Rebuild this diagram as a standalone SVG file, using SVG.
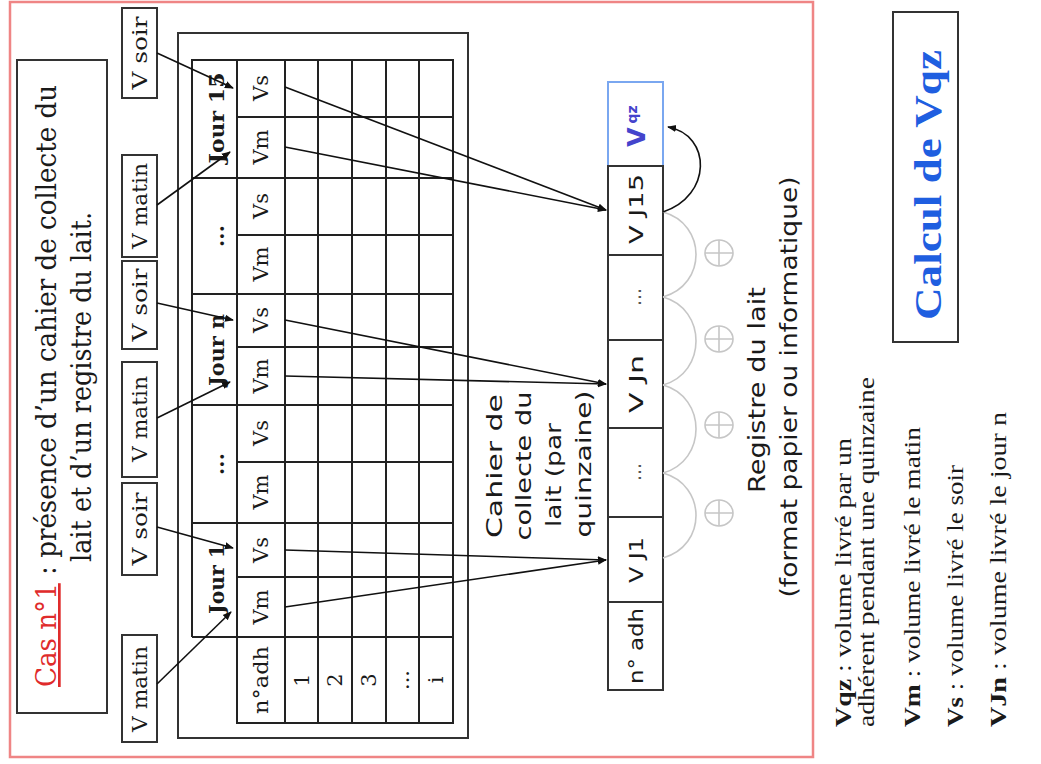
<svg xmlns="http://www.w3.org/2000/svg" width="1041" height="764" viewBox="0 0 1041 764">
<style>
.box{fill:#fff;stroke:#333;stroke-width:2}
.ln{stroke:#222;stroke-width:2;fill:none}
.sf{font-family:"DejaVu Serif","Liberation Serif",serif;fill:#1a1a1a}
.sfb{font-family:"DejaVu Serif","Liberation Serif",serif;fill:#1a1a1a;font-weight:bold}
.ss{font-family:"DejaVu Sans","Liberation Sans",sans-serif;fill:#1a1a1a}
.tr{font-family:"Liberation Serif","Times New Roman",serif;fill:#1a1a1a}
.conn{stroke:#111;stroke-width:1.6;fill:none;marker-end:url(#ah)}
.gray{stroke:#c6c6c6;stroke-width:1.6;fill:none}
</style>
<defs>
<marker id="ah" viewBox="0 0 10 10" refX="9" refY="5" markerWidth="9" markerHeight="9" markerUnits="userSpaceOnUse" orient="auto"><path d="M0,1 L10,5 L0,9 z" fill="#111"/></marker>
</defs>
<rect x="0" y="0" width="1041" height="764" fill="#fff"/>

<g id="frame"><rect x="10" y="2" width="803" height="755" fill="none" stroke="#ef8585" stroke-width="2.5"/></g>

<g id="title">
<rect class="box" x="17" y="60" width="90" height="653"/>
<text class="sf" font-size="27" text-anchor="middle" transform="translate(56,386) rotate(-90)" textLength="602" lengthAdjust="spacingAndGlyphs"><tspan fill="#e02b2b" text-decoration="underline">Cas n°1</tspan> : présence d’un cahier de collecte du</text>
<text class="sf" font-size="27" text-anchor="middle" transform="translate(91,387) rotate(-90)" textLength="350" lengthAdjust="spacingAndGlyphs">lait et d’un registre du lait.</text>
</g>

<g id="vsoir15"><rect class="box" x="122" y="8" width="35" height="90"/><text class="sf" font-size="21" text-anchor="middle" transform="translate(147,53) rotate(-90)" textLength="73" lengthAdjust="spacingAndGlyphs">V soir</text></g>
<g id="vmatin15"><rect class="box" x="122" y="155" width="35" height="102"/><text class="sf" font-size="21" text-anchor="middle" transform="translate(147,206) rotate(-90)" textLength="86" lengthAdjust="spacingAndGlyphs">V matin</text></g>
<g id="vsoirn"><rect class="box" x="122" y="261" width="35" height="88"/><text class="sf" font-size="21" text-anchor="middle" transform="translate(147,305) rotate(-90)" textLength="73" lengthAdjust="spacingAndGlyphs">V soir</text></g>
<g id="vmatinn"><rect class="box" x="122" y="362" width="35" height="115"/><text class="sf" font-size="21" text-anchor="middle" transform="translate(147,419) rotate(-90)" textLength="86" lengthAdjust="spacingAndGlyphs">V matin</text></g>
<g id="vsoir1"><rect class="box" x="122" y="483" width="35" height="92"/><text class="sf" font-size="21" text-anchor="middle" transform="translate(147,529) rotate(-90)" textLength="73" lengthAdjust="spacingAndGlyphs">V soir</text></g>
<g id="vmatin1"><rect class="box" x="122" y="635" width="35" height="107"/><text class="sf" font-size="21" text-anchor="middle" transform="translate(147,689) rotate(-90)" textLength="86" lengthAdjust="spacingAndGlyphs">V matin</text></g>

<g id="cahier">
<rect class="box" x="178" y="33" width="290" height="705"/>
<rect x="237" y="60" width="216" height="663" fill="#fff" stroke="none"/>
<g class="ln">
<path d="M192,637 V60 H453 V723 H237 V60"/>
<path d="M192,637 H453 M192,523 H453 M192,405 H453 M192,294 H453 M192,178 H453"/>
<path d="M237,117 H453 M237,235 H453 M237,347 H453 M237,462 H453 M237,577 H453"/>
<path d="M285,60 V723 M318,60 V723 M352,60 V723 M386,60 V723 M419,60 V723"/>
</g>
<text class="sfb" font-size="21" text-anchor="middle" transform="translate(224,118) rotate(-90)" textLength="91" lengthAdjust="spacingAndGlyphs">Jour 15</text>
<text class="sfb" font-size="21" text-anchor="middle" transform="translate(224,236) rotate(-90)">...</text>
<text class="sfb" font-size="21" text-anchor="middle" transform="translate(224,350) rotate(-90)" textLength="72" lengthAdjust="spacingAndGlyphs">Jour n</text>
<text class="sfb" font-size="21" text-anchor="middle" transform="translate(224,464) rotate(-90)">...</text>
<text class="sfb" font-size="21" text-anchor="middle" transform="translate(224,579) rotate(-90)" textLength="70" lengthAdjust="spacingAndGlyphs">Jour 1</text>
<g class="sf" font-size="21" text-anchor="middle">
<text transform="translate(268,88) rotate(-90)">Vs</text>
<text transform="translate(268,147) rotate(-90)">Vm</text>
<text transform="translate(268,206) rotate(-90)">Vs</text>
<text transform="translate(268,264) rotate(-90)">Vm</text>
<text transform="translate(268,320) rotate(-90)">Vs</text>
<text transform="translate(268,376) rotate(-90)">Vm</text>
<text transform="translate(268,433) rotate(-90)">Vs</text>
<text transform="translate(268,492) rotate(-90)">Vm</text>
<text transform="translate(268,550) rotate(-90)">Vs</text>
<text transform="translate(268,607) rotate(-90)">Vm</text>
<text transform="translate(268,680) rotate(-90)" textLength="68" lengthAdjust="spacingAndGlyphs">n°adh</text>
<text transform="translate(309,680) rotate(-90)">1</text>
<text transform="translate(342,680) rotate(-90)">2</text>
<text transform="translate(376,680) rotate(-90)">3</text>
<text transform="translate(409,680) rotate(-90)">...</text>
<text transform="translate(443,680) rotate(-90)">i</text>
</g>
<g class="ss" font-size="22" text-anchor="middle">
<text transform="translate(502,466) rotate(-90)" textLength="144" lengthAdjust="spacingAndGlyphs">Cahier de</text>
<text transform="translate(531,466) rotate(-90)" textLength="149" lengthAdjust="spacingAndGlyphs">collecte du</text>
<text transform="translate(561,475) rotate(-90)" textLength="104" lengthAdjust="spacingAndGlyphs">lait (par</text>
<text transform="translate(591,464) rotate(-90)" textLength="147" lengthAdjust="spacingAndGlyphs">quinzaine)</text>
</g>
</g>

<g id="registre">
<rect x="608" y="82" width="55" height="84" fill="#fff" stroke="#7aa7f0" stroke-width="2"/>
<rect class="box" x="608" y="166" width="55" height="89"/>
<rect class="box" x="608" y="255" width="55" height="85"/>
<rect class="box" x="608" y="340" width="55" height="88"/>
<rect class="box" x="608" y="428" width="55" height="89"/>
<rect class="box" x="608" y="517" width="55" height="85"/>
<rect class="box" x="608" y="602" width="55" height="88"/>
<text font-family="DejaVu Sans, Liberation Sans, sans-serif" font-weight="bold" fill="#4444cc" text-anchor="middle" transform="translate(645,126) rotate(-90)"><tspan font-size="25">V</tspan><tspan font-size="14" dx="4" dy="-8">qz</tspan></text>
<g class="ss" font-size="19" text-anchor="middle">
<text transform="translate(643,209) rotate(-90)" textLength="70" lengthAdjust="spacingAndGlyphs">V J15</text>
<text transform="translate(641,297) rotate(-90)" fill="#555">...</text>
<text transform="translate(643,384) rotate(-90)" textLength="58" lengthAdjust="spacingAndGlyphs">V Jn</text>
<text transform="translate(641,472) rotate(-90)" fill="#555">...</text>
<text transform="translate(643,560) rotate(-90)" textLength="46" lengthAdjust="spacingAndGlyphs">V J1</text>
<text transform="translate(643,646) rotate(-90)" textLength="76" lengthAdjust="spacingAndGlyphs">n° adh</text>
</g>
<g class="ss" font-size="23" text-anchor="middle">
<text transform="translate(765,390) rotate(-90)" textLength="206" lengthAdjust="spacingAndGlyphs">Registre du lait</text>
<text transform="translate(797,387) rotate(-90)" textLength="421" lengthAdjust="spacingAndGlyphs">(format papier ou informatique)</text>
</g>
<g class="gray">
<path d="M663,558 C707,546 707,485 663,473"/>
<path d="M663,473 C707,461 707,397 663,385"/>
<path d="M663,385 C707,373 707,309 663,297"/>
<path d="M663,297 C707,285 707,224 663,212"/>
<ellipse cx="719" cy="253" rx="14" ry="13"/><path d="M705,253 H733 M719,240 V266"/>
<ellipse cx="719" cy="339" rx="14" ry="13"/><path d="M705,339 H733 M719,326 V352"/>
<ellipse cx="719" cy="425" rx="14" ry="13"/><path d="M705,425 H733 M719,412 V438"/>
<ellipse cx="719" cy="513" rx="14" ry="13"/><path d="M705,513 H733 M719,500 V526"/>
</g>
</g>

<g id="connectors">
<line class="conn" x1="157" y1="53" x2="233" y2="88"/>
<line class="conn" x1="157" y1="205" x2="230" y2="152"/>
<line class="conn" x1="157" y1="303" x2="233" y2="320"/>
<line class="conn" x1="157" y1="418" x2="230" y2="382"/>
<line class="conn" x1="157" y1="527" x2="233" y2="548"/>
<line class="conn" x1="157" y1="684" x2="231" y2="612"/>
<line class="conn" x1="285" y1="87" x2="606" y2="210"/>
<line class="conn" x1="285" y1="147" x2="606" y2="210"/>
<line class="conn" x1="285" y1="320" x2="606" y2="384"/>
<line class="conn" x1="285" y1="376" x2="606" y2="384"/>
<line class="conn" x1="285" y1="550" x2="606" y2="560"/>
<line class="conn" x1="285" y1="607" x2="606" y2="560"/>
<path class="conn" d="M663,212 C712,196 712,135 668,127"/>
</g>

<g id="calcul">
<rect class="box" x="893" y="12" width="65" height="330"/>
<text font-family="Liberation Serif, Times New Roman, serif" font-weight="bold" font-size="38" fill="#1f5ee0" text-anchor="middle" transform="translate(941,185) rotate(-90)" textLength="270" lengthAdjust="spacingAndGlyphs">Calcul de Vqz</text>
</g>

<g id="legend" class="tr" font-size="24">
<text transform="translate(851,727) rotate(-90)" textLength="289" lengthAdjust="spacingAndGlyphs"><tspan font-weight="bold">Vqz</tspan> : volume livré par un</text>
<text transform="translate(874,727) rotate(-90)" textLength="350" lengthAdjust="spacingAndGlyphs">adhérent pendant une quinzaine</text>
<text transform="translate(920,727) rotate(-90)" textLength="300" lengthAdjust="spacingAndGlyphs"><tspan font-weight="bold">Vm</tspan> : volume livré le matin</text>
<text transform="translate(963,727) rotate(-90)" textLength="262" lengthAdjust="spacingAndGlyphs"><tspan font-weight="bold">Vs</tspan> : volume livré le soir</text>
<text transform="translate(1006,727) rotate(-90)" textLength="315" lengthAdjust="spacingAndGlyphs"><tspan font-weight="bold">VJn</tspan> : volume livré le jour n</text>
</g>
</svg>
